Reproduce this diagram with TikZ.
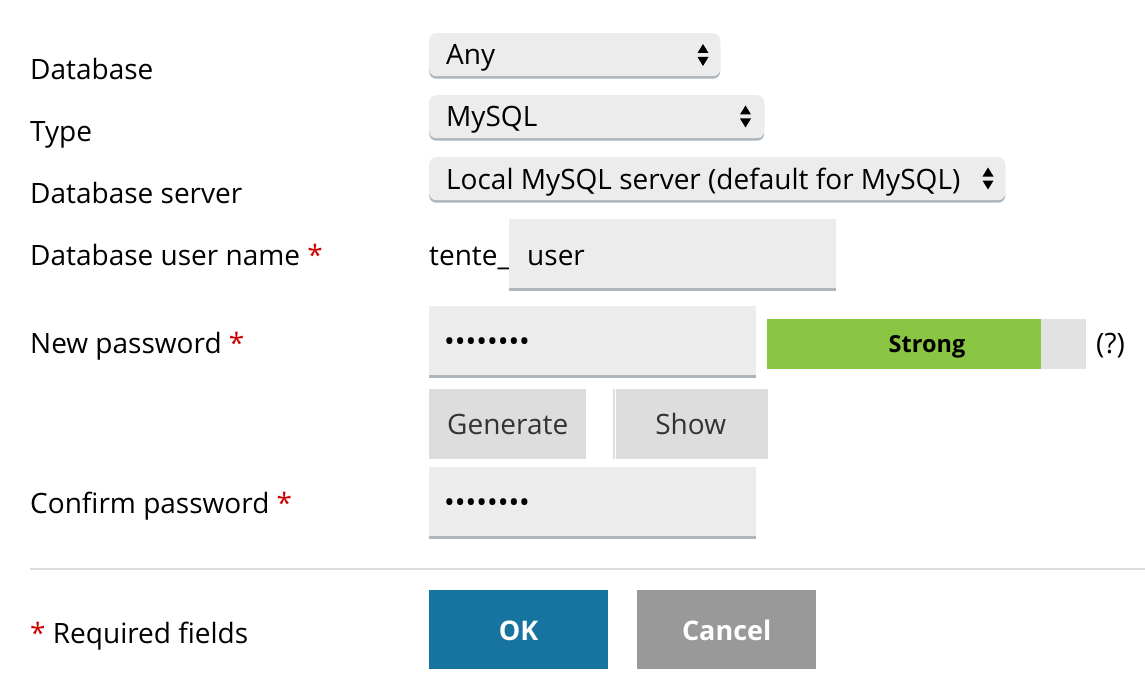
\documentclass[tikz,border=0pt]{standalone}
\usepackage{fontspec}
\setmainfont{Open Sans}
\usetikzlibrary{shadows}
\definecolor{fieldbg}{HTML}{ECECEC}
\definecolor{fieldline}{HTML}{ADB6BD}
\definecolor{btnbg}{HTML}{DDDDDD}
\definecolor{btntext}{HTML}{333333}
\definecolor{reqred}{HTML}{CC0000}
\definecolor{okblue}{HTML}{17739F}
\definecolor{cancelgray}{HTML}{999999}
\definecolor{strongbar}{HTML}{8AC543}
\definecolor{barrest}{HTML}{E2E2E2}
\definecolor{sepline}{HTML}{DDDDDD}
\begin{document}
\begin{tikzpicture}[x=1pt,y=-1pt,
  txt/.style={font=\fontsize{28}{33}\selectfont, inner sep=0pt, anchor=base west, text=black},
  ctxt/.style={font=\fontsize{28}{33}\selectfont, inner sep=0pt, anchor=base},
  selectbox/.style={fill=fieldbg, rounded corners=7pt, inner sep=0pt, anchor=north west,
    drop shadow={shadow xshift=0pt, shadow yshift=-2.5pt, fill=fieldline, opacity=1}},
  inputbox/.style={fill=fieldbg, inner sep=0pt, anchor=north west},
  btnbox/.style={fill=btnbg, inner sep=0pt, anchor=north west},
  arrowtip/.style={fill=black}
]
\useasboundingbox (0,0) rectangle (1145,690);

% ---- labels ----
\node[txt] (lDb)   at (30,80)  {Database};
\node[txt] (lType) at (30,142) {Type};
\node[txt] (lSrv)  at (30,203) {Database server};
\node[txt] (lUser) at (30,265) {Database user name \textcolor{reqred}{*}};
\node[txt] (lPw)   at (30,353) {New password \textcolor{reqred}{*}};
\node[txt] (lCpw)  at (30,513) {Confirm password \textcolor{reqred}{*}};
\node[txt] (lReq)  at (30,643) {\textcolor{reqred}{*} Required fields};

% ---- select boxes ----
\node[selectbox, minimum width=291pt, minimum height=43pt] (sAny) at (429,33) {};
\node[txt] (tAny) at (446,65) {Any};
\node[selectbox, minimum width=335pt, minimum height=43pt] (sType) at (429,95) {};
\node[txt] (tType) at (446,127) {MySQL};
\node[selectbox, minimum width=576pt, minimum height=43pt] (sSrv) at (429,157) {};
\node[txt] (tSrv) at (446,189) {Local MySQL server (default for MySQL)};

% select arrows
\foreach \ax/\cy in {703/55, 745.5/116.5, 988/178.5}{
  \fill[arrowtip] (\ax,\cy-11) -- (\ax+5.5,\cy-2) -- (\ax-5.5,\cy-2) -- cycle;
  \fill[arrowtip] (\ax,\cy+11) -- (\ax+5.5,\cy+2) -- (\ax-5.5,\cy+2) -- cycle;
}

% ---- user name ----
\node[txt] (tPrefix) at (429,265) {tente\_};
\node[inputbox, minimum width=327pt, minimum height=70pt] (iUser) at (509,219) {};
\draw[fieldline, line width=2.5pt] (iUser.south west) -- (iUser.south east);
\node[txt] (tUser) at (527,265) {user};

% ---- new password ----
\node[inputbox, minimum width=327pt, minimum height=70pt] (iPw) at (429,306) {};
\draw[fieldline, line width=2.5pt] (iPw.south west) -- (iPw.south east);
\node[txt, font=\fontsize{28.5}{33}\selectfont] (tPw) at (444,351) {••••••••};

% strength meter
\node[inputbox, fill=barrest, minimum width=319pt, minimum height=50pt] (mBar) at (767,319) {};
\node[inputbox, fill=strongbar, minimum width=274pt, minimum height=50pt] (mStrong) at (767,319) {};
\node[ctxt, font=\bfseries\fontsize{23.5}{28}\selectfont] (tStrong) at (927,352) {Strong};
\node[txt] (tHelp) at (1096,353) {(?)};

% ---- buttons ----
\node[btnbox, minimum width=157pt, minimum height=70pt] (bGen) at (429,389) {};
\node[ctxt, text=btntext] (tGen) at (bGen.center |- 0,434) {Generate};
\node[btnbox, minimum width=155pt, minimum height=70pt] (bShow) at (613,389) {};
\draw[white, line width=1.5pt] ([xshift=2.5pt]bShow.north west) -- ([xshift=2.5pt]bShow.south west);
\node[ctxt, text=btntext] (tShow) at (bShow.center |- 0,434) {Show};

% ---- confirm password ----
\node[inputbox, minimum width=327pt, minimum height=70pt] (iCpw) at (429,467) {};
\draw[fieldline, line width=2.5pt] (iCpw.south west) -- (iCpw.south east);
\node[txt, font=\fontsize{28.5}{33}\selectfont] (tCpw) at (444,512) {••••••••};

% ---- separator ----
\coordinate (sepL) at (30,569);
\coordinate (sepR) at (1145,569);
\draw[sepline, line width=2pt] (sepL) -- (sepR);

% ---- OK / Cancel ----
\node[inputbox, fill=okblue, minimum width=179pt, minimum height=79pt] (bOk) at (429,590) {};
\node[ctxt, text=white, font=\bfseries\fontsize{27}{32}\selectfont] (tOk) at (bOk.center |- 0,640) {OK};
\node[inputbox, fill=cancelgray, minimum width=179pt, minimum height=79pt] (bCancel) at (637,590) {};
\node[ctxt, text=white, font=\bfseries\fontsize{27}{32}\selectfont] (tCancel) at (bCancel.center |- 0,640) {Cancel};
\end{tikzpicture}
\end{document}
